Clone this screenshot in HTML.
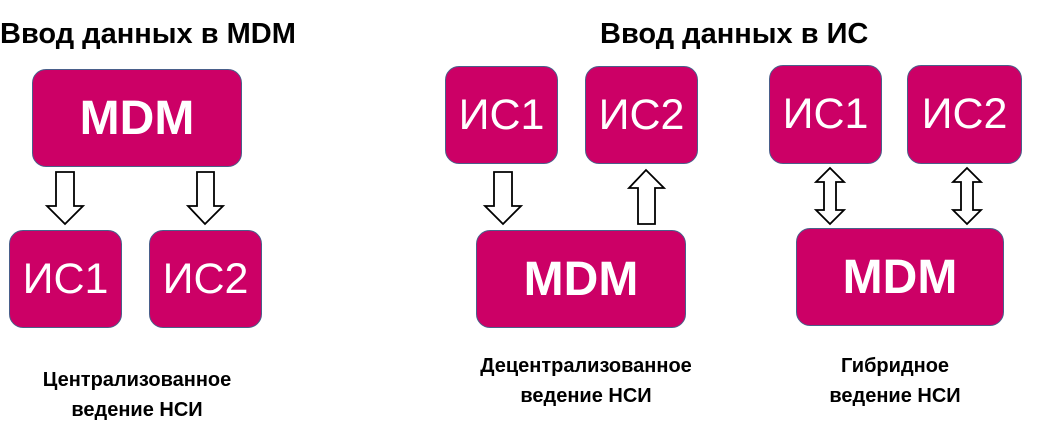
<!DOCTYPE html>
<html><head><meta charset="utf-8"><style>
body{margin:0;width:1049px;height:446px;background:#fff;position:relative;overflow:hidden;font-family:"Liberation Sans","DejaVu Sans",sans-serif}
.b{position:absolute;background:#cc0066;border:1px solid #4a5f8a;border-radius:14px;color:#fff;display:flex;align-items:center;justify-content:center;box-sizing:border-box}
.m{font-weight:bold;font-size:48px}
.i{font-size:43px}
.t{position:absolute;font-weight:bold;font-size:29px;white-space:nowrap}
.c{position:absolute;font-weight:bold;font-size:20px;text-align:center;line-height:30px;width:280px}
svg{position:absolute;left:0;top:0}
</style></head><body>
<div class="t" style="left:0;top:18px">Ввод данных в MDM</div>
<div class="t" style="left:600px;top:18px">Ввод данных в ИС</div>
<div class="b m" style="left:32px;top:69px;width:210px;height:98px">MDM</div>
<div class="b i" style="left:9px;top:230px;width:113px;height:98px">ИС1</div>
<div class="b i" style="left:149px;top:230px;width:113px;height:98px">ИС2</div>
<div class="b i" style="left:445px;top:66px;width:113px;height:98px">ИС1</div>
<div class="b i" style="left:585px;top:66px;width:113px;height:98px">ИС2</div>
<div class="b m" style="left:476px;top:230px;width:210px;height:98px">MDM</div>
<div class="b i" style="left:769px;top:65px;width:113px;height:99px">ИС1</div>
<div class="b i" style="left:907px;top:65px;width:115px;height:99px">ИС2</div>
<div class="b m" style="left:796px;top:228px;width:208px;height:98px">MDM</div>
<svg width="1049" height="446" fill="#fff" stroke="#000" stroke-width="1.8">
<polygon points="56,172 74,172 74,206 83,206 65,224 47,206 56,206"/>
<polygon points="197,172 214,172 214,206 223,206 205,224 188,206 197,206"/>
<polygon points="494,172 512,172 512,206 521,206 503,224 485,206 494,206"/>
<polygon points="638,224 655,224 655,188 664,188 646,170 629,188 638,188"/>
<polygon points="830,168 844,182 836,182 836,210 844,210 830,224 816,210 824,210 824,182 816,182"/>
<polygon points="967,168 981,182 973,182 973,210 981,210 967,224 953,210 961,210 961,182 953,182"/>
</svg>
<div class="c" style="left:-3px;top:365px">Централизованное<br>ведение НСИ</div>
<div class="c" style="left:446px;top:351px">Децентрализованное<br>ведение НСИ</div>
<div class="c" style="left:755px;top:351px">Гибридное<br>ведение НСИ</div>
</body></html>
